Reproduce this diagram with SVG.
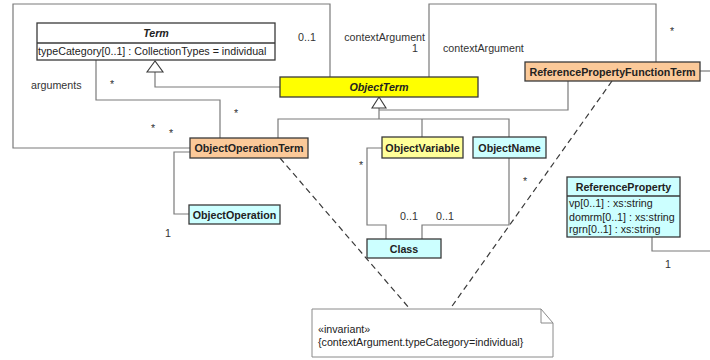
<svg xmlns="http://www.w3.org/2000/svg" width="710" height="360" viewBox="0 0 710 360">
<style>
text{font-family:"Liberation Sans",Arial,sans-serif;font-size:10.7px;fill:#222}
.n{font-weight:bold;text-anchor:middle}
.i{font-style:italic}
.box{stroke:#3a3a3a;stroke-width:1.3}
.or{fill:#FBC999}
.cy{fill:#CCFFFF}
.ye{fill:#FFFF00}
.ly{fill:#FFFF99}
.wh{fill:#FFFFFF}
.c{fill:none;stroke:#7a7a7a;stroke-width:1.2}
.d{fill:none;stroke:#3a3a3a;stroke-width:1.2;stroke-dasharray:6,4}
.tri{fill:#fff;stroke:#3a3a3a;stroke-width:1.1}
.lb{fill:#333}
</style>
<g id="connectors">
<polyline class="c" points="330,77 330,4 13,4 13,148 190,148"/>
<polyline class="c" points="280,87 155,87 155,72"/>
<polygon class="tri" points="155,61 147,72 163,72"/>
<polyline class="c" points="96,60 96,100 220,100 220,138"/>
<polyline class="c" points="429,77 429,4 656,4 656,62"/>
<line class="c" x1="700" y1="71" x2="710" y2="71"/>
<polyline class="c" points="568,81 568,110 379,110"/>
<line class="c" x1="379" y1="108" x2="379" y2="119"/>
<polyline class="c" points="278,138 278,119 509,119 509,137"/>
<line class="c" x1="422" y1="119" x2="422" y2="137"/>
<polygon class="tri" points="379,97 372,108 386,108"/>
<polyline class="c" points="190,152 174,152 174,214 189,214"/>
<polyline class="c" points="382,148 367,148 367,225 386,225 386,239"/>
<polyline class="c" points="509,158 509,225 422,225 422,239"/>
<polyline class="c" points="652,237 652,251 710,251"/>
<line class="d" x1="280" y1="158" x2="410" y2="309"/>
<line class="d" x1="612" y1="81" x2="450" y2="309"/>
<text class="lb" x="298" y="41">0..1</text>
<text class="lb" x="425" y="41" text-anchor="end">contextArgument</text>
<text class="lb" x="412" y="52">1</text>
<text class="lb" x="443" y="52">contextArgument</text>
<text class="lb" x="670" y="35">*</text>
<text class="lb" x="31" y="89">arguments</text>
<text class="lb" x="110" y="88">*</text>
<text class="lb" x="234" y="117">*</text>
<text class="lb" x="151" y="132">*</text>
<text class="lb" x="169" y="137">*</text>
<text class="lb" x="165" y="237">1</text>
<text class="lb" x="359" y="169">*</text>
<text class="lb" x="400" y="220">0..1</text>
<text class="lb" x="436" y="220">0..1</text>
<text class="lb" x="523" y="185">*</text>
<text class="lb" x="665" y="268">1</text>
</g>
<g id="Term">
<rect class="box wh" x="37" y="23" width="238" height="37"/>
<line class="box" x1="37" y1="43" x2="275" y2="43"/>
<text class="n i" x="156" y="37">Term</text>
<text x="38" y="55">typeCategory[0..1] : CollectionTypes = individual</text>
</g>
<g id="ObjectTerm">
<rect class="box ye" x="280" y="77" width="198" height="20"/>
<text class="n i" x="379" y="91">ObjectTerm</text>
</g>
<g id="ReferencePropertyFunctionTerm">
<rect class="box or" x="525" y="62" width="175" height="19"/>
<text class="n" x="612.5" y="75.5">ReferencePropertyFunctionTerm</text>
</g>
<g id="ObjectOperationTerm">
<rect class="box or" x="190" y="138" width="118" height="20"/>
<text class="n" x="249" y="152">ObjectOperationTerm</text>
</g>
<g id="ObjectOperation">
<rect class="box cy" x="189" y="205" width="91" height="19"/>
<text class="n" x="234.5" y="218.5">ObjectOperation</text>
</g>
<g id="ObjectVariable">
<rect class="box ly" x="382" y="137" width="81" height="21"/>
<text class="n" x="422.5" y="151.5">ObjectVariable</text>
</g>
<g id="ObjectName">
<rect class="box cy" x="473" y="137" width="73" height="21"/>
<text class="n" x="509.5" y="151.5">ObjectName</text>
</g>
<g id="Class">
<rect class="box cy" x="367" y="239" width="74" height="19"/>
<text class="n" x="404" y="252.5">Class</text>
</g>
<g id="ReferenceProperty">
<rect class="box cy" x="567" y="177" width="113" height="60"/>
<line class="box" x1="567" y1="196" x2="680" y2="196"/>
<text class="n" x="623.5" y="190.5">ReferenceProperty</text>
<text x="569" y="207">vp[0..1] : xs:string</text>
<text x="569" y="220.5">domrm[0..1] : xs:string</text>
<text x="569" y="233">rgrn[0..1] : xs:string</text>
</g>
<g id="note">
<polygon fill="#fff" stroke="#8a8a8a" stroke-width="1" points="312,309 541,309 553,323 553,357 312,357"/>
<polyline fill="none" stroke="#8a8a8a" stroke-width="1" points="541,309 541,323 553,323"/>
<text x="318" y="333">«invariant»</text>
<text x="318" y="346">{contextArgument.typeCategory=individual}</text>
</g>
</svg>
